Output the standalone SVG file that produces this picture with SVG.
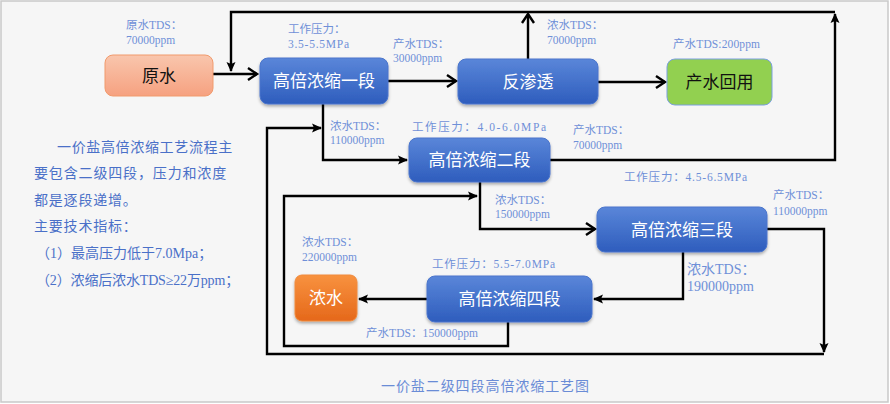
<svg xmlns="http://www.w3.org/2000/svg" width="890" height="404" viewBox="0 0 890 404">
<defs>
<linearGradient id="gBlue" x1="0" y1="0" x2="0" y2="1"><stop offset="0" stop-color="#5a86d9"/><stop offset="1" stop-color="#2e5dbd"/></linearGradient>
<linearGradient id="gSalmon" x1="0" y1="0" x2="0" y2="1"><stop offset="0" stop-color="#f9c6ad"/><stop offset="1" stop-color="#f6a180"/></linearGradient>
<linearGradient id="gOrange" x1="0" y1="0" x2="0" y2="1"><stop offset="0" stop-color="#f8923f"/><stop offset="1" stop-color="#e5681a"/></linearGradient>
<filter id="sh" x="-10%" y="-10%" width="120%" height="140%"><feDropShadow dx="0" dy="2" stdDeviation="1.5" flood-color="#000" flood-opacity="0.3"/></filter>
<marker id="open" markerUnits="userSpaceOnUse" markerWidth="20" markerHeight="20" viewBox="-12 -10 14 20" refX="0" refY="0" orient="auto" overflow="visible"><path d="M-9,-6 L0,0 L-9,6" fill="none" stroke="#000" stroke-width="2.4"/></marker>
<marker id="fill" markerUnits="userSpaceOnUse" markerWidth="20" markerHeight="20" viewBox="-12 -10 14 20" refX="0" refY="0" orient="auto" overflow="visible"><path d="M-9,-4.5 L1,0 L-9,4.5 L-7,0 z" fill="#000"/></marker>
<style>
.bg{fill:#f6f6f6;stroke:#c9c9c9;stroke-width:1.5}
.blue{fill:url(#gBlue);stroke:#4a75cc;stroke-width:1;filter:url(#sh)}
.nt{font-family:"Noto Sans CJK SC","Noto Sans",sans-serif;font-size:17px;text-anchor:middle}
.w{fill:#fff}
.k{fill:#111}
.lb{font-family:"Liberation Serif","Noto Sans CJK SC",serif;font-size:11.5px;fill:#6f90d8}
.para{font-family:"Liberation Serif","Noto Sans CJK SC",serif;font-size:14px;fill:#4a70c8;letter-spacing:0.8px}
.cap{font-family:"Liberation Serif","Noto Sans CJK SC",serif;font-size:14px;fill:#6a8cd6}
.c{fill:none;stroke:#000;stroke-width:2.4;stroke-linejoin:miter}
.co{marker-end:url(#open)}
.cf{marker-end:url(#fill)}
</style>
</defs>
<rect class="bg" x="1" y="1" width="887" height="401"/>

<g id="connectors">
<path class="c co" d="M213,74 H257"/>
<path class="c co" d="M388,81 H456"/>
<path class="c co" d="M598,82 H665"/>
<path class="c co" d="M528,59 V14"/>
<path class="c cf" d="M550,160 H835 V14"/>
<path class="c cf" d="M835,12 H231 V71"/>
<path class="c cf" d="M323,104 V160 H407"/>
<path class="c co" d="M480,182 V229 H595"/>
<path class="c cf" d="M767,229 H824 V352"/>
<path class="c cf" d="M824,354 H267 V128 H321"/>
<path class="c cf" d="M683,252 V299 H594"/>
<path class="c cf" d="M508,322 V346 H284 V196 H477"/>
<path class="c cf" d="M427,299 H359"/>
</g>

<g id="n-raw">
<rect x="105" y="55" width="108" height="41" rx="8" fill="url(#gSalmon)" stroke="#f19a6c" stroke-width="1"/>
<text class="nt k" x="159" y="81.5">原水</text>
</g>
<g id="n-stage1">
<rect class="blue" x="260" y="58" width="128" height="46" rx="8"/>
<text class="nt w" x="324" y="87">高倍浓缩一段</text>
</g>
<g id="n-ro">
<rect class="blue" x="458" y="59" width="140" height="45" rx="8"/>
<text class="nt w" x="528" y="87.5">反渗透</text>
</g>
<g id="n-reuse">
<rect x="667" y="59" width="105" height="46" rx="8" fill="#92d050" stroke="#7b9fe0" stroke-width="1"/>
<text class="nt k" x="719.5" y="88">产水回用</text>
</g>
<g id="n-stage2">
<rect class="blue" x="409" y="138" width="141" height="44" rx="8"/>
<text class="nt w" x="479.5" y="166">高倍浓缩二段</text>
</g>
<g id="n-stage3">
<rect class="blue" x="597" y="207" width="170" height="45" rx="8"/>
<text class="nt w" x="682" y="235.5">高倍浓缩三段</text>
</g>
<g id="n-stage4">
<rect class="blue" x="427" y="276" width="165" height="46" rx="8"/>
<text class="nt w" x="509.5" y="305">高倍浓缩四段</text>
</g>
<g id="n-brine">
<rect x="295" y="275" width="62" height="46" rx="7" fill="url(#gOrange)" stroke="#f08a3c" stroke-width="1" filter="url(#sh)"/>
<text class="nt w" x="326" y="304">浓水</text>
</g>

<g id="labels">
<text class="lb" x="126" y="29">原水TDS：</text>
<text class="lb" x="126" y="44">70000ppm</text>
<text class="lb" x="288" y="33">工作压力：</text>
<text class="lb" x="288" y="48" textLength="61" lengthAdjust="spacing">3.5-5.5MPa</text>
<text class="lb" x="393" y="48">产水TDS：</text>
<text class="lb" x="393" y="62">30000ppm</text>
<text class="lb" x="547" y="29">浓水TDS：</text>
<text class="lb" x="547" y="44">70000ppm</text>
<text class="lb" x="673" y="48" textLength="87" lengthAdjust="spacing">产水TDS:200ppm</text>
<text class="lb" x="330" y="130">浓水TDS：</text>
<text class="lb" x="330" y="144">110000ppm</text>
<text class="lb" x="412" y="131" textLength="134" lengthAdjust="spacing">工作压力：4.0-6.0MPa</text>
<text class="lb" x="573" y="134">产水TDS：</text>
<text class="lb" x="573" y="149">70000ppm</text>
<text class="lb" x="624" y="181" textLength="123" lengthAdjust="spacing">工作压力：4.5-6.5MPa</text>
<text class="lb" x="773" y="199">产水TDS：</text>
<text class="lb" x="773" y="215">110000ppm</text>
<text class="lb" x="495" y="204">浓水TDS：</text>
<text class="lb" x="495" y="218">150000ppm</text>
<text class="lb" x="687" y="274" style="font-size:14px">浓水TDS：</text>
<text class="lb" x="687" y="291" style="font-size:14px">190000ppm</text>
<text class="lb" x="302" y="246">浓水TDS：</text>
<text class="lb" x="302" y="261">220000ppm</text>
<text class="lb" x="432" y="268" textLength="123" lengthAdjust="spacing">工作压力：5.5-7.0MPa</text>
<text class="lb" x="366" y="337" textLength="112" lengthAdjust="spacing">产水TDS：150000ppm</text>
</g>

<g id="description">
<text class="para" x="57" y="152" textLength="176" lengthAdjust="spacing">一价盐高倍浓缩工艺流程主</text>
<text class="para" x="34" y="178" textLength="193" lengthAdjust="spacing">要包含二级四段，压力和浓度</text>
<text class="para" x="34" y="205">都是逐段递增。</text>
<text class="para" x="34" y="231">主要技术指标：</text>
<text class="para" x="36" y="258" textLength="177" lengthAdjust="spacing">（1）最高压力低于7.0Mpa；</text>
<text class="para" x="36" y="285" textLength="204" lengthAdjust="spacing">（2）浓缩后浓水TDS≥22万ppm；</text>
</g>

<text class="cap" x="381" y="391" textLength="208" lengthAdjust="spacing">一价盐二级四段高倍浓缩工艺图</text>
</svg>
